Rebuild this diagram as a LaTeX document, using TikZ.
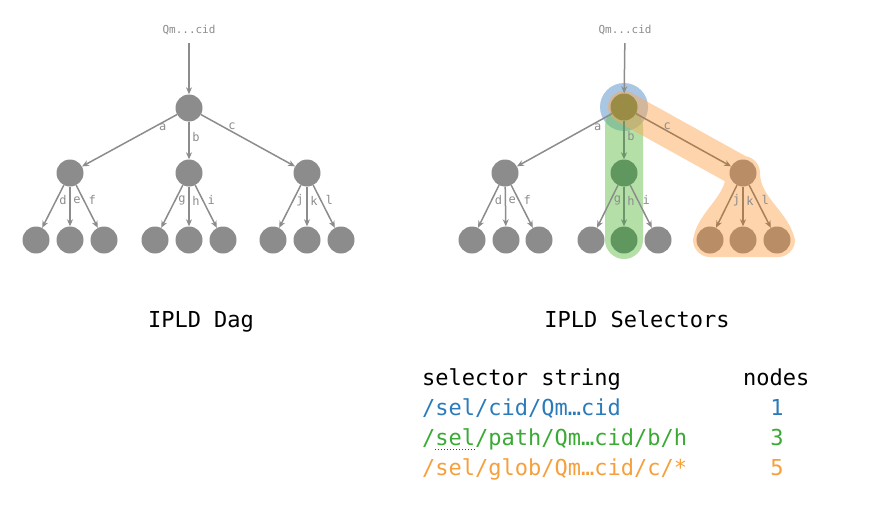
\documentclass[tikz,border=0pt]{standalone}
\usepackage{fontspec}
\setmainfont{DejaVu Sans Mono}
\usepackage{tikz}
\usetikzlibrary{arrows.meta}

\definecolor{dagGray}{HTML}{8C8C8C}
\definecolor{selBlue}{HTML}{2B7BBA}
\definecolor{selGreen}{HTML}{3AAA35}
\definecolor{selOrange}{HTML}{F5A03C}
\definecolor{hlBlue}{HTML}{538DC7}
\definecolor{hlGreen}{HTML}{69C151}
\definecolor{hlOrange}{HTML}{FBA957}
\definecolor{greenVert}{HTML}{5F975F}
\definecolor{orangeVert}{HTML}{B98D65}
\definecolor{rootVert}{HTML}{9A8C45}
\definecolor{greenLink}{HTML}{6E946E}
\definecolor{orangeLink}{HTML}{A8805A}

\tikzset{
  vert/.style={circle,fill=dagGray,minimum size=27pt,inner sep=0pt},
  link/.style={-{Stealth[length=7pt,width=6pt]},draw=dagGray,line width=1.5pt},
  lbl/.style={font=\fontsize{12}{14}\selectfont,text=dagGray,inner sep=1pt},
  qm/.style={font=\fontsize{11}{13}\selectfont,text=dagGray,inner sep=2pt},
  title/.style={font=\fontsize{22}{26}\selectfont,anchor=base,inner sep=0pt},
  row/.style={font=\fontsize{22}{26}\selectfont,anchor=base west,inner sep=0pt},
  cnt/.style={font=\fontsize{22}{26}\selectfont,anchor=base,inner sep=0pt}
}

\begin{document}
\begin{tikzpicture}[x=1pt,y=-1pt]
  \useasboundingbox (0,0) rectangle (885,519);

  % left: plain dag
  \node[qm] (lq) at (189,30) {Qm...cid};
  \node[vert] (lr) at (189,108) {};
  \node[vert] (la) at (70,173) {};
  \node[vert] (lb) at (189,173) {};
  \node[vert] (lc) at (307,173) {};
  \node[vert] (ld) at (36,240) {};
  \node[vert] (le) at (70,240) {};
  \node[vert] (lf) at (104,240) {};
  \node[vert] (lg) at (155,240) {};
  \node[vert] (lh) at (189,240) {};
  \node[vert] (li) at (223,240) {};
  \node[vert] (lj) at (273,240) {};
  \node[vert] (lk) at (307,240) {};
  \node[vert] (ll) at (341,240) {};
  \draw[link,shorten <=6pt] (lq) -- (lr);
  \draw[link] (lr) -- node[lbl,pos=.15,below] {a} (la);
  \draw[link] (lr) -- node[lbl,pos=.4,right=1.5pt] {b} (lb);
  \draw[link] (lr) -- node[lbl,pos=.33,above] {c} (lc);
  \draw[link] (la) -- node[lbl,pos=.35,right=1.5pt] {d} (ld);
  \draw[link] (la) -- node[lbl,pos=.35,right=1.5pt] {e} (le);
  \draw[link] (la) -- node[lbl,pos=.35,right=3pt] {f} (lf);
  \draw[link] (lb) -- node[lbl,pos=.35,right=1.5pt] {g} (lg);
  \draw[link] (lb) -- node[lbl,pos=.35,right=1.5pt] {h} (lh);
  \draw[link] (lb) -- node[lbl,pos=.35,right=3pt] {i} (li);
  \draw[link] (lc) -- node[lbl,pos=.35,right=1.5pt] {j} (lj);
  \draw[link] (lc) -- node[lbl,pos=.35,right=1.5pt] {k} (lk);
  \draw[link] (lc) -- node[lbl,pos=.35,right=3pt] {l} (ll);
  \node[title] (ldag) at (201,327) {IPLD Dag};

  % right: same dag, with the three selections
  \node[qm] (rq) at (625,30) {Qm...cid};
  \coordinate (rrc) at (624,107);
  \coordinate (rhc) at (624,240);
  \coordinate (rcc) at (743,173);
  \begin{scope}[transparency group,opacity=.5]
    \fill[hlBlue] (rrc) circle (24);
  \end{scope}
  \begin{scope}[transparency group,opacity=.5]
    \draw[hlGreen,line width=38pt,line cap=round] ([yshift=-19pt]rrc) -- (rhc);
  \end{scope}
  \begin{scope}[transparency group,opacity=.5]
    \draw[hlOrange,line width=32pt,line cap=round] (rrc) -- (rcc);
    \fill[hlOrange] (726,173) arc[start angle=180,end angle=0,radius=17pt]
      .. controls (760,198) and (789,212) .. (795,240)
      arc[start angle=0,end angle=-90,radius=17pt] -- (710,257)
      arc[start angle=-90,end angle=-180,radius=17pt]
      .. controls (697,212) and (726,198) .. cycle;
  \end{scope}
  \node[vert,fill=rootVert] (rr) at (rrc) {};
  \node[vert] (ra) at (505,173) {};
  \node[vert,fill=greenVert] (rb) at (624,173) {};
  \node[vert,fill=orangeVert] (rc) at (rcc) {};
  \node[vert] (rd) at (472,240) {};
  \node[vert] (re) at (506,240) {};
  \node[vert] (rf) at (539,240) {};
  \node[vert] (rg) at (591,240) {};
  \node[vert,fill=greenVert] (rh) at (rhc) {};
  \node[vert] (ri) at (658,240) {};
  \node[vert,fill=orangeVert] (rj) at (710,240) {};
  \node[vert,fill=orangeVert] (rk) at (743,240) {};
  \node[vert,fill=orangeVert] (rl) at (777,240) {};
  \draw[link,shorten <=6pt] (rq) -- (rr);
  \draw[link] (rr) -- node[lbl,pos=.15,below] {a} (ra);
  \draw[link,draw=greenLink] (rr) -- node[lbl,pos=.4,right=1.5pt] {b} (rb);
  \draw[link,draw=orangeLink] (rr) -- node[lbl,pos=.33,above] {c} (rc);
  \draw[link] (ra) -- node[lbl,pos=.35,right=1.5pt] {d} (rd);
  \draw[link] (ra) -- node[lbl,pos=.35,right=1.5pt] {e} (re);
  \draw[link] (ra) -- node[lbl,pos=.35,right=3pt] {f} (rf);
  \draw[link] (rb) -- node[lbl,pos=.35,right=1.5pt] {g} (rg);
  \draw[link,draw=greenLink] (rb) -- node[lbl,pos=.35,right=1.5pt] {h} (rh);
  \draw[link] (rb) -- node[lbl,pos=.35,right=3pt] {i} (ri);
  \draw[link,draw=orangeLink] (rc) -- node[lbl,pos=.35,right=1.5pt] {j} (rj);
  \draw[link,draw=orangeLink] (rc) -- node[lbl,pos=.35,right=1.5pt] {k} (rk);
  \draw[link,draw=orangeLink] (rc) -- node[lbl,pos=.35,right=3pt] {l} (rl);
  \node[title] (rsel) at (637,327) {IPLD Selectors};

  % selector table
  \node[row] (head) at (422,385) {selector string};
  \node[row] (nhead) at (743,385) {nodes};
  \node[row,text=selBlue] (scid) at (422,415) {/sel/cid/Qm…cid};
  \node[row,text=selGreen] (spath) at (422,445) {/sel/path/Qm…cid/b/h};
  \node[row,text=selOrange] (sglob) at (422,475) {/sel/glob/Qm…cid/c/*};
  \node[cnt,text=selBlue] (ncid) at (777,415) {1};
  \node[cnt,text=selGreen] (npath) at (777,445) {3};
  \node[cnt,text=selOrange] (nglob) at (777,475) {5};
  \draw[red!80!black,dotted,line width=1pt]
    ([xshift=13pt,yshift=-4pt]spath.base west) -- ([xshift=53pt,yshift=-4pt]spath.base west);
\end{tikzpicture}
\end{document}
